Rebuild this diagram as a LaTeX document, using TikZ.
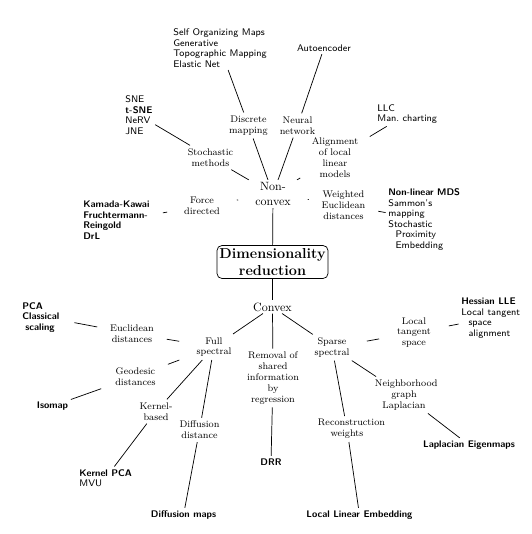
\documentclass[tikz,border=0pt]{standalone}
\begin{document}
\begin{tikzpicture}[x=0.8333pt,y=0.8333pt,yscale=-1,xscale=1,
  line width=0.6pt,
  root/.style={draw,rounded corners=4pt,align=center,font=\large\bfseries,inner xsep=2pt,inner ysep=2.5pt},
  branch/.style={align=center,text width=1.7cm,inner xsep=4.5pt,inner ysep=1.5pt,font=\fontsize{10}{13}\selectfont},
  method/.style={align=center,text width=1.7cm,inner xsep=4.5pt,inner ysep=2.5pt,font=\fontsize{8}{9}\selectfont},
  leaf/.style={align=left,inner sep=2pt,font=\sffamily\fontsize{8}{8.8}\selectfont}]
\path[use as bounding box] (0,0) rectangle (531,534);

% Text Node
\draw (272.5,262) node (dr) [root] {Dimensionality\\reduction};
% Text Node
\draw (273,194) node (nonconvex) [branch] {Non-\\convex};
% Text Node
\draw (272.5,307) node (convex) [branch] {Convex};

% Text Node
\draw (248.5,125.5) node (discrete) [method] {Discrete\\mapping};
% Text Node
\draw (170.6,48) node (som) [leaf,anchor=west] {Self Organizing Maps\\Generative\\Topographic Mapping\\Elastic Net};
% Text Node
\draw (297.5,125.5) node (neural) [method] {Neural\\network};
% Text Node
\draw (324,48) node (autoenc) [leaf] {Autoencoder};
% Text Node
\draw (335,157.5) node (alignment) [method] {Alignment\\of local\\linear\\models};
% Text Node
\draw (374.6,114) node (llc) [leaf,anchor=west] {LLC\\Man.\ charting};
% Text Node
\draw (210.5,157.5) node (stoch) [method] {Stochastic\\methods};
% Text Node
\draw (122.6,115) node (sne) [leaf,anchor=west] {SNE\\\textbf{t-SNE}\\NeRV\\JNE};
% Text Node
\draw (202,206) node (force) [method] {Force\\directed};
% Text Node
\draw (80.6,220) node (kamada) [leaf,anchor=west,text width=64pt,font=\sffamily\bfseries\fontsize{8}{8.8}\selectfont] {Kamada-Kawai\\Fruchtermann-\\Reingold\\DrL};
% Text Node
\draw (343.5,205) node (weighted) [method] {Weighted\\Euclidean\\distances};
% Text Node
\draw (385.6,219.5) node (nlmds) [leaf,anchor=west] {\textbf{Non-linear MDS}\\Sammon's\\mapping\\Stochastic\\\hspace*{6pt}Proximity\\\hspace*{6pt}Embedding};

% Text Node
\draw (214,347) node (full) [method] {Full\\spectral};
% Text Node
\draw (132,333.5) node (euclid) [method] {Euclidean\\distances};
% Text Node
\draw (19.6,317.5) node (pca) [leaf,anchor=west,text width=41pt,font=\sffamily\bfseries\fontsize{8}{8.8}\selectfont] {PCA\\Classical\\\hspace*{2.5pt}scaling};
% Text Node
\draw (135.5,376.5) node (geodesic) [method] {Geodesic\\distances};
% Text Node
\draw (52.5,406) node (isomap) [leaf,font=\sffamily\bfseries\fontsize{8}{8.8}\selectfont] {Isomap};
% Text Node
\draw (156,411.5) node (kernel) [method] {Kernel-\\based};
% Text Node
\draw (76.6,478) node (kpca) [leaf,anchor=west] {\textbf{Kernel PCA}\\MVU};
% Text Node
\draw (199.5,430) node (diffdist) [method] {Diffusion\\distance};
% Text Node
\draw (183.5,515) node (diffmaps) [leaf,font=\sffamily\bfseries\fontsize{8}{8.8}\selectfont] {Diffusion maps};

% Text Node
\draw (273,378) node (removal) [method] {Removal of\\shared\\information\\by\\regression};
% Text Node
\draw (271,462) node (drr) [leaf,font=\sffamily\bfseries\fontsize{8}{8.8}\selectfont] {DRR};

% Text Node
\draw (332,347.5) node (sparse) [method] {Sparse\\spectral};
% Text Node
\draw (414,332.5) node (tangent) [method] {Local\\tangent\\space};
% Text Node
\draw (458.6,318) node (hessian) [leaf,anchor=west] {\textbf{Hessian LLE}\\Local tangent\\\hspace*{6pt}space\\\hspace*{6pt}alignment};
% Text Node
\draw (404,395) node (nbh) [method] {Neighborhood\\graph\\Laplacian};
% Text Node
\draw (469,445) node (lapeig) [leaf,font=\sffamily\bfseries\fontsize{8}{8.8}\selectfont] {Laplacian Eigenmaps};
% Text Node
\draw (347,429) node (recon) [method] {Reconstruction\\weights};
% Text Node
\draw (359.5,515) node (lle) [leaf,font=\sffamily\bfseries\fontsize{8}{8.8}\selectfont] {Local Linear Embedding};

%Straight Lines
\draw (nonconvex) -- (dr) ;
\draw (dr) -- (convex) ;
%Straight Lines
\draw (nonconvex) -- (discrete) ;
\draw (discrete) -- (som) ;
\draw (nonconvex) -- (neural) ;
\draw (neural) -- (autoenc) ;
\draw (nonconvex) -- (alignment) ;
\draw (alignment) -- (llc) ;
\draw (nonconvex) -- (stoch) ;
\draw (stoch) -- (sne) ;
\draw (nonconvex) -- (force) ;
\draw (force) -- (kamada) ;
\draw (nonconvex) -- (weighted) ;
\draw (weighted) -- (nlmds) ;
%Straight Lines
\draw (convex) -- (full) ;
\draw (full) -- (euclid) ;
\draw (euclid) -- (pca) ;
\draw (full) -- (geodesic) ;
\draw (geodesic) -- (isomap) ;
\draw (full) -- (kernel) ;
\draw (kernel) -- (kpca) ;
\draw (full) -- (diffdist) ;
\draw (diffdist) -- (diffmaps) ;
%Straight Lines
\draw (convex) -- (removal) ;
\draw (removal) -- (drr) ;
%Straight Lines
\draw (convex) -- (sparse) ;
\draw (sparse) -- (tangent) ;
\draw (tangent) -- (hessian) ;
\draw (sparse) -- (nbh) ;
\draw (nbh) -- (lapeig) ;
\draw (sparse) -- (recon) ;
\draw (recon) -- (lle) ;

\end{tikzpicture}
\end{document}
